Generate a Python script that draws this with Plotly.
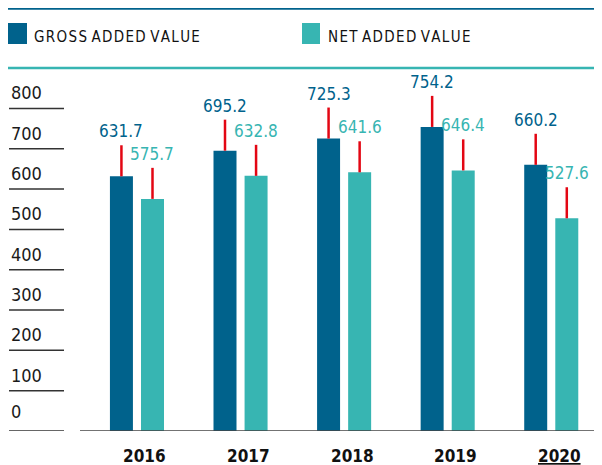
import plotly.graph_objects as go

years = ["2016", "2017", "2018", "2019", "2020"]
gross = [631.7, 695.2, 725.3, 754.2, 660.2]
net = [575.7, 632.8, 641.6, 646.4, 527.6]
ytick_vals = [0, 100, 200, 300, 400, 500, 600, 700, 800]
legend_names = ["GROSS ADDED VALUE", "NET ADDED VALUE"]

C_GROSS = "#00628c"
C_NET = "#37b5b2"
C_RED = "#e30613"
OFF = 8  # page body margin of the browser
W, H = 602 - OFF, 465 - OFF
TOP, BOT = 75 - OFF, 34
YMAX = 883
STEM = 77  # red stem length in data units

NUMFONT = "DejaVu Sans Condensed, Liberation Sans Narrow, Roboto, sans-serif"

def px(x):
    return (x - OFF) / W

ph = H - TOP - BOT
def py(y):
    return 1 + (TOP - (y - OFF)) / ph

fig = go.Figure()
for name, vals, col in [(legend_names[0], gross, C_GROSS), (legend_names[1], net, C_NET)]:
    fig.add_trace(go.Bar(
        x=years, y=vals, name=name, marker=dict(color=col, line=dict(width=0)),
        error_y=dict(type="data", symmetric=False, array=[STEM] * len(vals),
                     arrayminus=[0] * len(vals), color=C_RED, thickness=2.5, width=0),
        showlegend=False, hoverinfo="skip",
    ))

anns = []
shapes = []
# value labels
for vals, col, off in [(gross, C_GROSS, -15.5), (net, C_NET, 15.5)]:
    for i, v in enumerate(vals):
        anns.append(dict(x=i, y=v + STEM, xref="x", yref="y", text=f"{v:.1f}",
                         showarrow=False, xshift=off, yshift=14, yanchor="middle",
                         font=dict(family=NUMFONT, size=17, color=col)))
# year labels
for i, yr in enumerate(years):
    txt = f"<b>{yr}</b>" if yr != "2020" else f"<b><u>{yr}</u></b>"
    anns.append(dict(x=i, y=0, xref="x", yref="y", text=txt, showarrow=False,
                     xshift=8, yshift=-25, yanchor="middle",
                     font=dict(family=NUMFONT, size=17, color="#111")))
# left tick labels + lines
for t in ytick_vals:
    anns.append(dict(x=px(9), y=t, xref="paper", yref="y", text=str(t), showarrow=False,
                     xanchor="left", yanchor="bottom", yshift=3 if t else 7,
                     font=dict(family=NUMFONT, size=18, color="#1a1a1a")))
    shapes.append(dict(type="line", xref="paper", yref="y", x0=px(9), x1=px(64), y0=t, y1=t,
                       line=dict(color="#333", width=1.5)))
# baseline
shapes.append(dict(type="line", xref="paper", yref="y", x0=px(80), x1=1, y0=0, y1=0,
                   line=dict(color="#444", width=1.5)))
# top lines
shapes.append(dict(type="line", xref="paper", yref="paper", x0=0, x1=1,
                   y0=py(8.5), y1=py(8.5), line=dict(color=C_GROSS, width=2.5)))
shapes.append(dict(type="line", xref="paper", yref="paper", x0=0, x1=1,
                   y0=py(68), y1=py(68), line=dict(color=C_NET, width=2.5)))
# legend squares and labels
for (x0, x1, col, tx, name) in [(8, 27, C_GROSS, 32, legend_names[0]), (302, 320, C_NET, 326, legend_names[1])]:
    shapes.append(dict(type="rect", xref="paper", yref="paper", x0=px(max(x0, OFF)), x1=px(x1),
                       y0=py(44), y1=py(23), fillcolor=col, line=dict(width=0)))
    spaced = "\u200a".join(list(name)).replace("\u200a \u200a", "\u2004")
    anns.append(dict(x=px(tx), y=py(37), xref="paper", yref="paper", text=spaced,
                     showarrow=False, xanchor="left", yanchor="middle",
                     font=dict(family=NUMFONT, size=15, color="#111")))

fig.update_layout(
    width=W, height=H, margin=dict(l=0, r=0, t=TOP, b=BOT),
    paper_bgcolor="white", plot_bgcolor="white",
    barmode="group", bargap=0.40, bargroupgap=0.26,
    xaxis=dict(domain=[px(80), 1], type="category", range=[-0.55, 4.49],
               showticklabels=False, showgrid=False, zeroline=False, showline=False),
    yaxis=dict(range=[0, YMAX], showticklabels=False, showgrid=False, zeroline=False,
               showline=False),
    annotations=anns, shapes=shapes,
)
fig.write_html("out.html")
